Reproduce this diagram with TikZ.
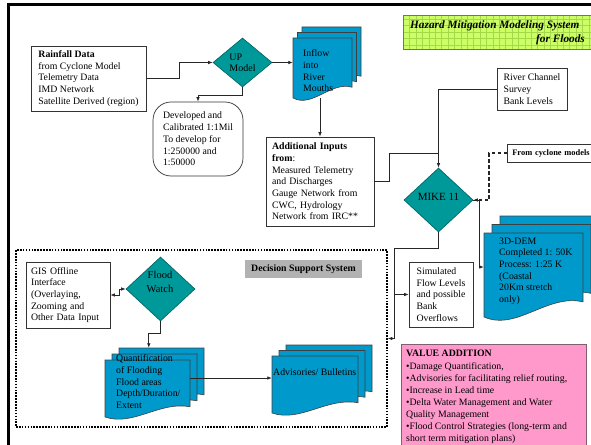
\documentclass[tikz,border=0pt]{standalone}
\usepackage{fontspec}
\setmainfont{Liberation Serif}
\usetikzlibrary{shapes.geometric,arrows.meta,calc,fit}
\definecolor{teal1}{HTML}{009999}
\definecolor{teal2}{HTML}{006666}
\definecolor{docblue}{HTML}{0099CC}
\definecolor{pinkbox}{HTML}{FF99CC}
\definecolor{pinkedge}{HTML}{806070}
\definecolor{titlegreen}{HTML}{CCFF66}
\definecolor{gridgreen}{HTML}{A6D94A}
\definecolor{lbl}{HTML}{B2B2B2}
\newcommand\bodyfont{\fontsize{9.8}{11.7}\selectfont}
\newcommand\docpage[4]{%
  \pgfmathsetmacro\mdW{(#3)-(#1)}%
  \pgfmathsetmacro\mdH{(#4)-(#2)}%
  \draw[docstyle] (#1,#2) -- (#3,#2) -- (#3,#4-0.18*\mdH) .. controls (#1+0.64*\mdW,#4-0.28*\mdH) and (#1+0.33*\mdW,#4+0.17*\mdH) .. (#1,#4) -- cycle;}
\newcommand\mdoc[7]{%
  \pgfmathsetmacro\mdAx{#2+2*#6}\pgfmathsetmacro\mdAy{#3-2*#7}%
  \pgfmathsetmacro\mdBx{#4+2*#6}\pgfmathsetmacro\mdBy{#5-2*#7}%
  \docpage{\mdAx}{\mdAy}{\mdBx}{\mdBy}%
  \pgfmathsetmacro\mdAx{#2+#6}\pgfmathsetmacro\mdAy{#3-#7}%
  \pgfmathsetmacro\mdBx{#4+#6}\pgfmathsetmacro\mdBy{#5-#7}%
  \docpage{\mdAx}{\mdAy}{\mdBx}{\mdBy}%
  \docpage{#2}{#3}{#4}{#5}%
  \coordinate (#1nw) at (#2,#3); \coordinate (#1se) at (#4,#5);
  \node[fit=(#1nw)(#1se),inner sep=0pt] (#1) {};}
\tikzset{
  box/.style={draw=black!80, line width=0.7pt, fill=white, align=left, font=\bodyfont, inner sep=0pt},
  teald/.style={diamond, draw=teal2, fill=teal1, line width=0.7pt, inner sep=0pt, aspect=1},
  docstyle/.style={draw=black!75, fill=docblue, line width=0.6pt},
  doctxt/.style={font=\bodyfont, align=left, anchor=north west, inner sep=0pt},
  conn/.style={draw=black!85, line width=0.8pt},
  arr/.style={conn, -{Latex[length=4.5pt,width=3.6pt]}},
}
\begin{document}
\begin{tikzpicture}[x=1pt,y=-1pt]
\useasboundingbox (0,0) rectangle (591,444);
% frame
\draw[line width=3pt] (7,4.5) -- (600,4.5);
\draw[line width=3pt] (8.5,3) -- (8.5,450);
% title
\begin{scope}
\clip (403,15) rectangle (600,49);
\fill[titlegreen] (403,15) rectangle (600,49);
\draw[gridgreen, line width=0.4pt, step=6.4pt] (403,49) grid (600,15);
\end{scope}
\draw[black!55, line width=0.7pt] (403,15) rectangle (600,49);
\node[font=\fontsize{11.3}{14}\selectfont\bfseries\itshape, align=left, anchor=north west, inner sep=0pt] (title) at (410,20.6) {Hazard Mitigation Modeling System\\\hspace*{126pt}for Floods};
% top row
\node[box, minimum width=115pt, minimum height=65pt] (rain) at (88.5,78.5) {\textbf{Rainfall Data}\\from Cyclone Model\\Telemetry Data\\IMD Network\\Satellite Derived (region)};
\node[teald, minimum width=59pt, minimum height=49pt, font=\fontsize{10}{11}\selectfont, align=left] (up) at (242.5,62.5) {UP\\Model};
\node[box, rounded corners=18pt, minimum width=90pt, minimum height=74pt] (dev) at (198,139) {Developed and\\Calibrated 1:1Mil\\To develop for\\1:250000 and\\1:50000};
\mdoc{inflow}{293}{38}{352}{98}{4.5}{5.5}
\node[doctxt] (inflowt) at (303,49.5) {Inflow\\into\\River\\Mouths};
\node[box, inner xsep=6pt, text width=96pt, minimum height=89pt] (addl) at (320,181.5) {\textbf{Additional Inputs}\\\textbf{from}:\\Measured Telemetry\\and Discharges\\Gauge Network from\\CWC, Hydrology\\Network from IRC**};
\node[box, minimum width=70pt, minimum height=42pt] (riv) at (532,89) {River Channel\\Survey\\Bank Levels};
\node[teald, minimum width=69pt, minimum height=64pt] (mike) at (438.5,200) {};
\node[font=\fontsize{11}{13}\selectfont, inner sep=0pt] (miket) at (438.5,197) {MIKE 11};
\node[box, font=\fontsize{8.4}{10}\selectfont\bfseries, inner xsep=5pt, text width=90pt, minimum height=18pt, anchor=west] (cyc) at (507,153) {From cyclone models};
\mdoc{dem}{484}{233}{583}{317}{8}{8.5}
\node[doctxt] (demt) at (499,237.5) {3D-DEM\\Completed 1: 50K\\Process: 1:25 K\\(Coastal\\20Km stretch\\only)};
\node[box, minimum width=64pt, minimum height=65pt] (sim) at (441,294.5) {Simulated\\Flow Levels\\and possible\\Bank\\Overflows};
% decision support system
\node[draw, line width=1.6pt, dash pattern=on 1.6pt off 1.3pt, minimum width=371pt, minimum height=177pt, inner sep=0pt] (dss) at (201.5,338.5) {};
\node[fill=lbl, minimum width=117pt, minimum height=18pt, font=\bodyfont\bfseries, inner sep=0pt] (dsslbl) at (303.5,269) {Decision Support System};
\node[box, inner xsep=5pt, text width=74pt, minimum height=66pt] (gis) at (68,295) {GIS Offline\\Interface\\(Overlaying,\\Zooming and\\Other Data Input};
\node[teald, minimum width=69pt, minimum height=64pt] (fw) at (160.5,289) {};
\node[font=\fontsize{10.5}{14}\selectfont, align=center, inner sep=0pt] (fwt) at (160,282) {Flood\\Watch};
\mdoc{quant}{105}{360}{190}{417}{7}{6}
\node[doctxt] (quantt) at (116,354.5) {Quantification\\of Flooding\\Flood areas\\Depth/Duration/\\Extent};
\mdoc{adv}{272}{356}{358}{413}{7}{5.5}
\node[doctxt] (advt) at (273,368.5) {Advisories/ Bulletins};
% value addition
\node[draw=pinkedge, fill=pinkbox, line width=0.8pt, minimum width=185pt, minimum height=120pt, anchor=north west, inner sep=0pt] (val) at (401,344) {};
\node[font=\fontsize{9.8}{12.1}\selectfont, align=left, anchor=north west, inner sep=0pt] (valt) at (406,350.3) {\textbf{VALUE ADDITION}\\•Damage Quantification,\\•Advisories for facilitating relief routing,\\•Increase in Lead time\\•Delta Water Management and Water\\Quality Management\\•Flood Control Strategies (long-term and\\short term mitigation plans)};
% connectors
\draw[arr] (rain.east) -- ++(33,0) |- (up.west);
\draw[arr] (up.south) -- ++(0,8) -| (dev.north);
\draw[arr] (up.east) -- (up.east -| inflow.west);
\draw[arr] (inflow.south -| addl.north) -- (addl.north);
\draw[arr] (riv.west) -| (mike.north);
\coordinate (j1) at ($(mike.north)+(0,-14)$);
\draw[conn] (addl.east) -- ++(15,0) |- (j1);
\draw[arr, dash pattern=on 3.5pt off 2.5pt, line width=1.1pt] (cyc.west) -- ++(-18,0) |- (mike.east);
\draw[arr] (mike.east) -- ++(6,0) |- ([yshift=8pt]dem.west);
\coordinate (j2) at ($(mike.south)+(-44.5,16)$);
\draw[arr] (mike.south) |- (j2) |- (sim.west);
\draw[arr] (j2 |- sim.west) |- (dss.east);
\draw[conn, {Latex[length=4.5pt,width=3.6pt]}-{Latex[length=4.5pt,width=3.6pt]}] (gis.east) -- ++(9,0) |- (fw.west);
\coordinate (q1) at ($(quant.north west)+(44,-12)$);
\draw[arr] (fw.south) -- ++(0,12) -| (q1);
\draw[arr] ([yshift=10.5pt]quant.east) -- ([yshift=10.5pt]quant.east -| adv.west);
\end{tikzpicture}
\end{document}
